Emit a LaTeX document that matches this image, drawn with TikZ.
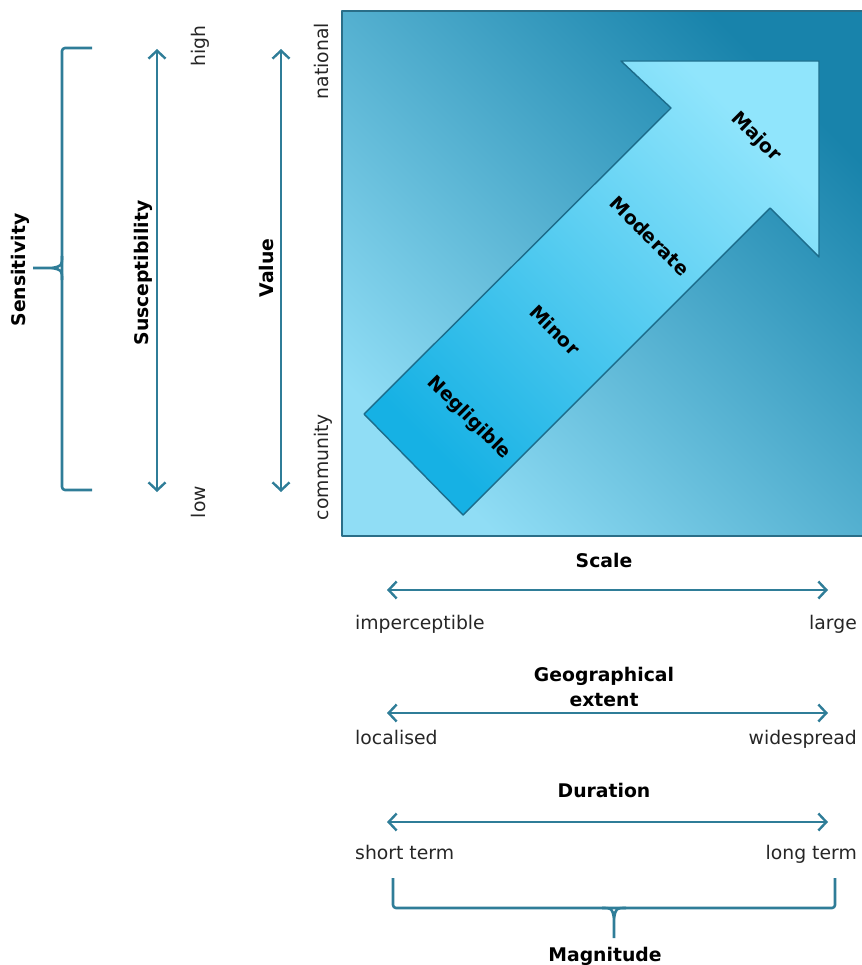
\documentclass[tikz,border=0pt]{standalone}
\usepackage{fontspec}
\setmainfont{DejaVu Sans}
\usetikzlibrary{arrows.meta}
\definecolor{lineC}{HTML}{2F7D98}
\definecolor{sqLight}{HTML}{90DDF5}
\definecolor{sqDark}{HTML}{1883AB}
\definecolor{sqEdge}{HTML}{2A6E88}
\definecolor{arTail}{HTML}{16B1E4}
\definecolor{arHead}{HTML}{90E5FC}
\definecolor{arEdge}{HTML}{1C6C8B}
\definecolor{txtC}{HTML}{262626}
\begin{document}
\begin{tikzpicture}[x=1pt,y=-1pt,line join=round,
  axisline/.style={draw=lineC,line width=2.6pt,
    {Straight Barb[length=8pt,width=17pt,line width=2.4pt]}-{Straight Barb[length=8pt,width=17pt,line width=2.4pt]}},
  bracket/.style={draw=lineC,line width=2.6pt,rounded corners=3pt},
  ttl/.style={font=\fontsize{18.8}{23}\selectfont\bfseries,text=black,inner sep=0pt,align=center},
  lbl/.style={font=\fontsize{18.8}{23}\selectfont,text=txtC,inner sep=0pt},
  arlbl/.style={font=\fontsize{19}{23}\selectfont\bfseries,text=black,inner sep=0pt,rotate=-45}]
\useasboundingbox (0,0) rectangle (861,965);

% ---- square with gradient
\shade[draw=sqEdge,line width=1.6pt,bottom color=sqLight,top color=sqDark,shading angle=-45]
  (342,11) rectangle (866,536);

% ---- big arrow
\shade[draw=arEdge,line width=1.4pt,bottom color=arTail,top color=arHead,shading angle=-45]
  (364,414) -- (463,515) -- (770,208) -- (819,257) -- (819,61) -- (621,61) -- (671,108) -- cycle;

\node[arlbl] (negl) at (469,418) {Negligible};
\node[arlbl] (mino) at (555,330) {Minor};
\node[arlbl] (mode) at (650,236) {Moderate};
\node[arlbl] (majo) at (756,137) {Major};

% ---- left side
\node[ttl,rotate=90] (sens) at (20,270) {Sensitivity};
\coordinate (sT) at (92,48);
\coordinate (sB) at (92,490);
\coordinate (sTip) at (33,268);
\draw[bracket] (sT) -- (62,48) -- (62,490) -- (sB);
\draw[draw=lineC,line width=2.6pt] (62,256) .. controls (62,266) .. (52,268) -- (sTip);
\draw[draw=lineC,line width=2.6pt] (62,280) .. controls (62,270) .. (52,268);

\node[ttl,rotate=90] (susc) at (143,273) {Susceptibility};
\coordinate (suT) at (157,49);
\coordinate (suB) at (157,492);
\draw[axisline] (suB) -- (suT);
\node[lbl,rotate=90,anchor=base] (high) at (205,46) {high};
\node[lbl,rotate=90,anchor=base] (low) at (205,502) {low};

\node[ttl,rotate=90] (valu) at (266,268) {Value};
\coordinate (vT) at (281,49);
\coordinate (vB) at (281,492);
\draw[axisline] (vB) -- (vT);
\node[lbl,rotate=90,anchor=base] (natl) at (328,61) {national};
\node[lbl,rotate=90,anchor=base] (comm) at (328,467) {community};

% ---- bottom scales
\node[ttl] (scal) at (604,560) {Scale};
\coordinate (a1L) at (387,590);
\coordinate (a1R) at (828,590);
\draw[axisline] (a1L) -- (a1R);
\node[lbl,anchor=base west] (impe) at (355,629) {imperceptible};
\node[lbl,anchor=base east] (larg) at (857,629) {large};

\node[ttl] (geog) at (604,687) {Geographical\\[2pt]extent};
\coordinate (a2L) at (387,713);
\coordinate (a2R) at (828,713);
\draw[axisline] (a2L) -- (a2R);
\node[lbl,anchor=base west] (loca) at (355,744) {localised};
\node[lbl,anchor=base east] (wide) at (857,744) {widespread};

\node[ttl] (dura) at (604,790) {Duration};
\coordinate (a3L) at (387,822);
\coordinate (a3R) at (828,822);
\draw[axisline] (a3L) -- (a3R);
\node[lbl,anchor=base west] (shor) at (355,859) {short term};
\node[lbl,anchor=base east] (long) at (857,859) {long term};

% ---- magnitude brace
\coordinate (mL) at (393,878);
\coordinate (mR) at (835,878);
\coordinate (mTip) at (614,938);
\draw[bracket] (mL) -- (393,908) -- (835,908) -- (mR);
\draw[draw=lineC,line width=2.6pt] (602,908) .. controls (612,908) .. (614,918) -- (mTip);
\draw[draw=lineC,line width=2.6pt] (626,908) .. controls (616,908) .. (614,918);
\node[ttl] (magn) at (605,956) {Magnitude};
\end{tikzpicture}
\end{document}
